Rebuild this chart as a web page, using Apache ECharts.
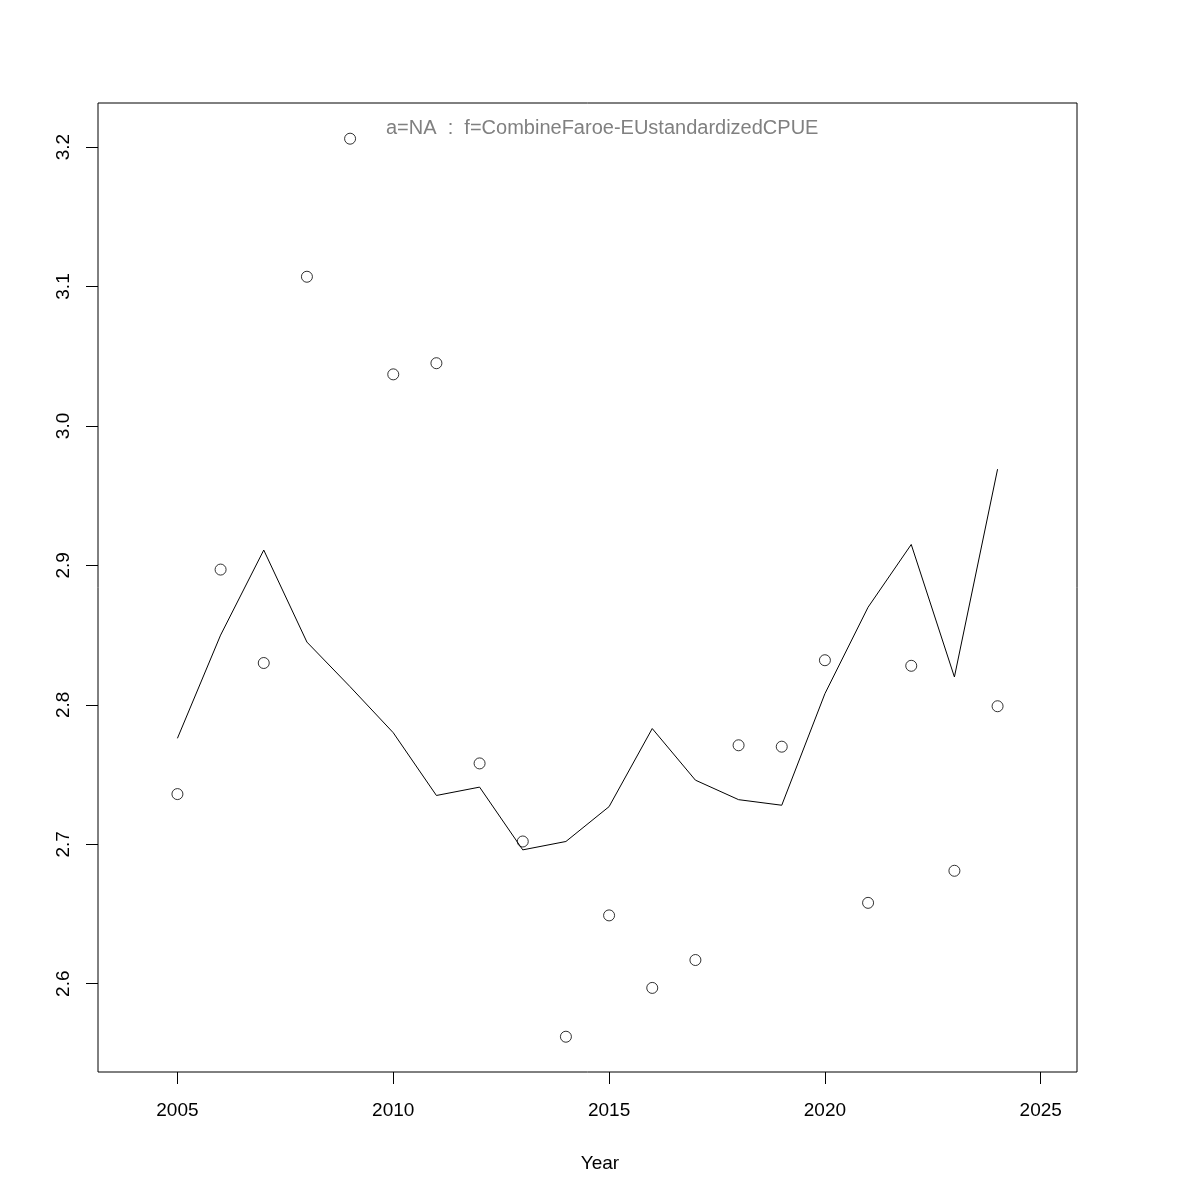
<!DOCTYPE html>
<html>
<head>
<meta charset="utf-8">
<script src="https://cdn.jsdelivr.net/npm/echarts@6/dist/echarts.min.js"></script>
<style>html,body{margin:0;padding:0;background:#fff}#c{width:1200px;height:1200px}</style>
</head>
<body>
<div id="c"></div>
<script>
var years = [2005,2006,2007,2008,2009,2010,2011,2012,2013,2014,2015,2016,2017,2018,2019,2020,2021,2022,2023,2024];
var observed = [2.736,2.897,2.830,3.107,3.206,3.037,3.045,2.758,2.702,2.562,2.649,2.597,2.617,2.771,2.770,2.832,2.658,2.828,2.681,2.799];
var fitted = [2.776,2.850,2.911,2.845,2.813,2.780,2.735,2.741,2.696,2.702,2.727,2.783,2.746,2.732,2.728,2.808,2.870,2.915,2.820,2.969];
var xTicks = [2005,2010,2015,2020,2025];
var yTicks = [2.6,2.7,2.8,2.9,3.0,3.1,3.2];
var titleText = 'a=NA  :  f=CombineFaroe-EUstandardizedCPUE';
var xName = 'Year';

var font = 'Liberation Sans, Arial, Helvetica, sans-serif';
var chart = echarts.init(document.getElementById('c'), null, {renderer:'canvas'});
chart.setOption({
  backgroundColor:'#ffffff',
  animation:false,
  title:{text:titleText, left:386, top:118, padding:0,
    textStyle:{fontFamily:font, fontSize:20, fontWeight:'normal', color:'#808080'}},
  graphic:[{type:'text', left:'center', top:1154, style:{text:xName, x:0, fill:'#000', font:'19px ' + font}, silent:true, z:10}],
  grid:{left:98, top:103, right:123, bottom:128, show:true, borderColor:'#000', borderWidth:1, backgroundColor:'transparent'},
  xAxis:{type:'value', min:2003.16, max:2025.84,
    axisLine:{show:false},
    splitLine:{show:false},
    axisTick:{show:true, length:12, lineStyle:{color:'#000', width:1}, customValues:xTicks},
    axisLabel:{fontFamily:font, fontSize:19, color:'#000', margin:29, customValues:xTicks,
      formatter:function(v){return String(v);}}
  },
  yAxis:{type:'value', min:2.5367, max:3.2316,
    axisLine:{show:false},
    splitLine:{show:false},
    axisTick:{show:true, length:12, lineStyle:{color:'#000', width:1}, customValues:yTicks},
    axisLabel:{fontFamily:font, fontSize:19, color:'#000', margin:25, rotate:90, customValues:yTicks,
      formatter:function(v){return v.toFixed(1);}}
  },
  series:[
    {type:'line', data:years.map(function(y,i){return [y,fitted[i]];}), showSymbol:false, symbol:'none',
      lineStyle:{color:'#000', width:1}},
    {type:'scatter', data:years.map(function(y,i){return [y,observed[i]];}), symbol:'circle', symbolSize:11,
      itemStyle:{color:'rgba(255,255,255,0)', borderColor:'#000', borderWidth:1}}
  ]
});
</script>
</body>
</html>
